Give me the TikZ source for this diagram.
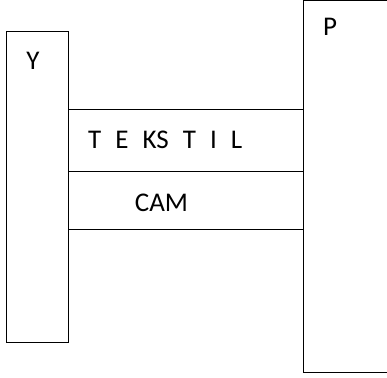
\documentclass[tikz,border=0pt]{standalone}
\usepackage{fontspec}
\setmainfont{Carlito}
\newfontfamily\widespaced[WordSpace=2.3]{Carlito}
\begin{document}
\begin{tikzpicture}[x=1pt,y=-1pt,
  frame/.style={draw=black, line width=1pt, minimum width=#1, inner sep=0pt},
  band/.style={draw=black, line width=1pt},
  lbl/.style={inner sep=0pt, font=\fontsize{27}{32}\selectfont},
  spaced/.style={inner sep=0pt, font=\widespaced\fontsize{27}{32}\selectfont}]
  \useasboundingbox (0,0) rectangle (387,377);
  % two tall pillars
  \node[frame=62pt, minimum height=310pt] (Y) at (37,187) {};
  \node[frame=90pt, minimum height=371pt] (P) at (348,186.5) {};
  % bands spanning between the pillars
  \draw[band] (Y.east |- 0,109) -- (P.west |- 0,109);
  \draw[band] (Y.east |- 0,171) -- (P.west |- 0,171);
  \draw[band] (Y.east |- 0,229) -- (P.west |- 0,229);
  % labels
  \node[lbl, anchor=base] (ylab) at (33,70) {Y};
  \node[lbl, anchor=base] (plab) at (330,36) {P};
  \node[spaced, anchor=base west] (tekstil) at (88,148) {T E KS T I L};
  \node[lbl, anchor=base] (cam) at (161.5,211) {CAM};
\end{tikzpicture}
\end{document}
